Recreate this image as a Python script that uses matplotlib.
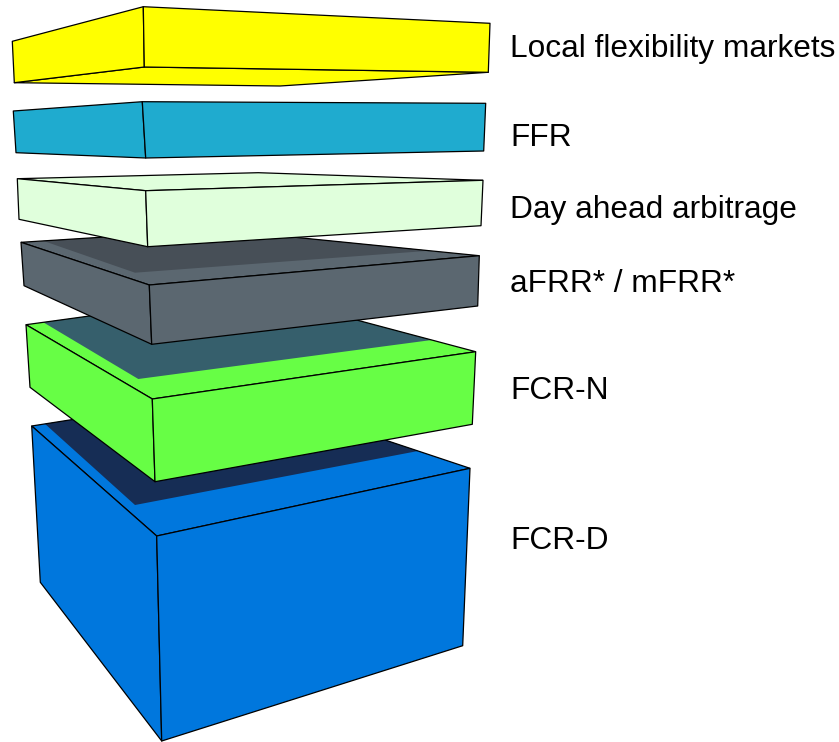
import matplotlib
matplotlib.use("Agg")
import matplotlib.pyplot as plt
from matplotlib.patches import Polygon

# Market layers, top to bottom
labels = ["Local flexibility markets", "FFR", "Day ahead arbitrage",
          "aFRR* / mFRR*", "FCR-N", "FCR-D"]
face_colors = ["#ffff00", "#1fabcf", "#e0ffdc", "#5b6770", "#67fe45", "#0077dd"]
shadow_colors = [None, None, None, "#474f57", "#365f6c", "#162d55"]
label_baselines = [56.7, 146.0, 217.7, 291.7, 399.3, 548.7]

# Slab corners in picture pixels: left, front, right, back
top_corners = [
    [(12.3, 41.3), (143.3, 6.7), (490.0, 23.3), None],
    [(13.3, 111.0), (142.3, 101.7), (485.7, 103.3), None],
    [(17.3, 178.7), (145.7, 190.7), (483.0, 180.3), (258.3, 172.7)],
    [(21.0, 242.3), (149.3, 285.0), (479.3, 255.7), (220.0, 229.8)],
    [(26.0, 324.7), (152.3, 399.0), (475.7, 351.7), (255.9, 293.2)],
    [(31.7, 426.0), (156.7, 536.0), (470.0, 468.3), (242.8, 392.6)],
]
bottom_corners = [
    [(14.3, 82.7), (144.3, 67.0), (488.3, 72.3), (280.0, 86.0)],
    [(16.0, 152.7), (145.7, 158.0), (483.7, 151.0), None],
    [(19.0, 219.3), (147.7, 246.7), (481.0, 225.7), None],
    [(24.0, 285.7), (151.7, 344.3), (477.7, 306.0), None],
    [(30.0, 387.3), (155.0, 481.7), (472.3, 424.3), None],
    [(40.3, 582.3), (161.7, 741.0), (462.7, 645.7), None],
]
# Shadow cast by the slab above onto the top face
shadows = [
    None, None, None,
    [(43.3, 240.9), (135.0, 272.7), (430.0, 250.7), (220.0, 229.8)],
    [(43.3, 322.3), (138.3, 379.0), (431.7, 340.0), (255.9, 293.2)],
    [(45.0, 423.9), (135.0, 505.0), (418.0, 451.0), (242.8, 392.6)],
]

W, H = 839, 742
fig = plt.figure(figsize=(W / 100, H / 100), dpi=100, facecolor="white")
ax = fig.add_axes([0, 0, 1, 1])
ax.set_xlim(0, W)
ax.set_ylim(H, 0)
ax.axis("off")

lw = 0.9


def face(ax, pts, color, edge=True, z=1):
    ax.add_patch(Polygon(pts, closed=True, facecolor=color,
                         edgecolor="black" if edge else "none",
                         linewidth=lw, joinstyle="round", zorder=z))


# draw from the bottom slab upwards so upper slabs overlap lower ones
for i in reversed(range(len(labels))):
    tL, tF, tR, tB = top_corners[i]
    bL, bF, bR, bB = bottom_corners[i]
    col = face_colors[i]
    z = 10 * (len(labels) - i)

    if tB is not None:
        face(ax, [tL, tB, tR, tF], col, edge=False, z=z)
        if shadows[i] is not None:
            face(ax, shadows[i], shadow_colors[i], edge=False, z=z + 1)
        ax.add_patch(Polygon([tL, tB, tR, tF], closed=True, fill=False,
                             edgecolor="black", linewidth=lw, zorder=z + 2))
    if bB is not None:
        face(ax, [bL, bF, bR, bB], col, z=z)

    face(ax, [tL, tF, bF, bL], col, z=z + 3)
    face(ax, [tF, tR, bR, bF], col, z=z + 3)

    ax.text(510, label_baselines[i], labels[i], fontsize=22.8,
            family="Liberation Sans", color="black", ha="left", va="baseline")

fig.savefig("out.png", dpi=100, facecolor="white")
